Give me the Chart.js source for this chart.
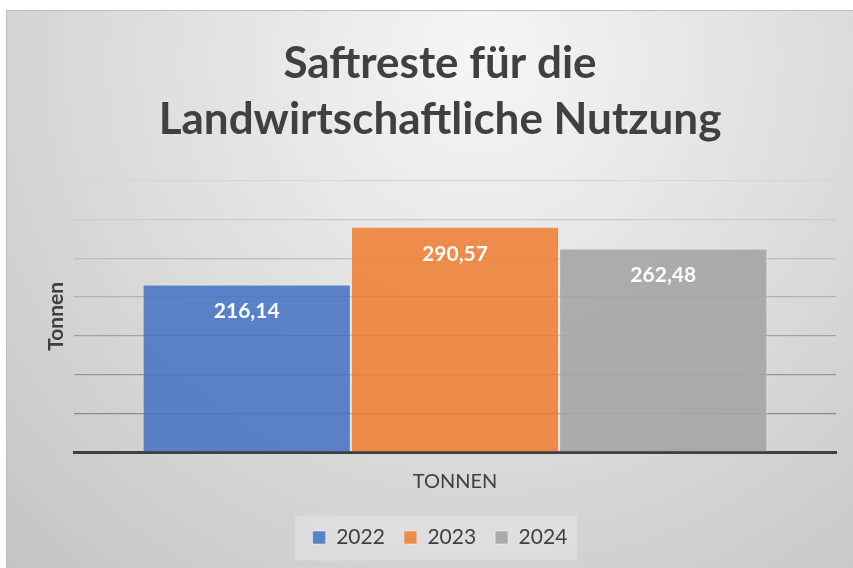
<!DOCTYPE html>
<html>
<head>
<meta charset="utf-8">
<script src="https://cdn.jsdelivr.net/npm/chart.js@4.4.1/dist/chart.umd.min.js"></script>
<style>
  html, body { margin: 0; padding: 0; background: #fff; }
  canvas { display: block; }
</style>
</head>
<body>
<canvas id="chart" width="853" height="568"></canvas>
<script>
const categories = ['TONNEN'];
const years = ['2022', '2023', '2024'];
const values2022 = [216.14];
const values2023 = [290.57];
const values2024 = [262.48];
const yMax = 350;
const yStep = 50;

const FONT = 'Lato, Calibri, "Open Sans", sans-serif';
const TEXT = '#404040';

const gridShades = { 50: '#8c8c8c', 100: '#969696', 150: '#a2a2a2', 200: '#b0b0b0', 250: '#bdbdbd', 300: '#cbcbcb', 350: '#d6d6d6' };

// gray radial background + legend box
const backgroundPlugin = {
    id: 'bg',
    beforeDraw(chart) {
        const ctx = chart.ctx;
        ctx.save();
        ctx.fillStyle = '#fff';
        ctx.fillRect(0, 0, chart.width, chart.height);
        const g = ctx.createRadialGradient(480, 60, 0, 480, 60, 720);
        g.addColorStop(0, '#f6f6f6');
        g.addColorStop(1, '#c2c2c2');
        ctx.fillStyle = g;
        ctx.fillRect(6, 10, chart.width - 6, chart.height - 10);
        ctx.strokeStyle = '#bdbdbd';
        ctx.lineWidth = 1;
        ctx.beginPath();
        ctx.moveTo(6.5, chart.height);
        ctx.lineTo(6.5, 10.5);
        ctx.lineTo(chart.width, 10.5);
        ctx.stroke();

        const boxes = chart.legend.legendHitBoxes;
        if (boxes && boxes.length) {
            const first = boxes[0], last = boxes[boxes.length - 1];
            const cy = first.top + first.height / 2;
            ctx.fillStyle = 'rgba(255,255,255,0.25)';
            ctx.fillRect(first.left - 18, cy - 22, last.left + last.width - first.left + 28, 45);
        }
        ctx.restore();
    }
};

// value labels inside the bar tops
const valueLabels = {
    id: 'valueLabels',
    afterDatasetsDraw(chart) {
        const ctx = chart.ctx;
        ctx.save();
        ctx.font = 'bold 21px ' + FONT;
        ctx.fillStyle = '#fff';
        ctx.textAlign = 'center';
        ctx.textBaseline = 'middle';
        chart.data.datasets.forEach((ds, i) => {
            chart.getDatasetMeta(i).data.forEach((bar, j) => {
                const txt = ds.data[j].toFixed(2).replace('.', ',');
                ctx.fillText(txt, bar.x, bar.y + 27);
            });
        });
        ctx.restore();
    }
};

new Chart(document.getElementById('chart'), {
    type: 'bar',
    data: {
        labels: categories,
        datasets: [
            { label: years[0], data: values2022, backgroundColor: 'rgba(68,114,196,0.86)', borderColor: 'rgba(255,255,255,0.45)', borderWidth: 1 },
            { label: years[1], data: values2023, backgroundColor: 'rgba(237,125,49,0.86)', borderColor: 'rgba(255,255,255,0.45)', borderWidth: 1 },
            { label: years[2], data: values2024, backgroundColor: 'rgba(165,165,165,0.9)', borderColor: 'rgba(255,255,255,0.45)', borderWidth: 1 }
        ]
    },
    options: {
        responsive: false,
        animation: false,
        categoryPercentage: 0.82,
        barPercentage: 1,
        layout: { padding: { left: 44, right: 17, top: 0, bottom: 10 } },
        plugins: {
            title: {
                display: true,
                text: ['Saftreste für die', 'Landwirtschaftliche Nutzung'],
                color: TEXT,
                font: { family: FONT, size: 44, weight: 'bold', lineHeight: 1.27 },
                padding: { top: 36, bottom: 33 }
            },
            legend: {
                position: 'bottom',
                labels: {
                    color: TEXT,
                    font: { family: FONT, size: 21 },
                    boxWidth: 13,
                    boxHeight: 13,
                    padding: 19
                }
            },
            tooltip: { enabled: false }
        },
        scales: {
            x: {
                grid: { display: false, drawTicks: false },
                border: { display: true, color: '#404040', width: 3 },
                ticks: { color: TEXT, font: { family: FONT, size: 20 }, padding: 18 },
                afterFit: s => { s.height = 56; }
            },
            y: {
                min: 0,
                max: yMax,
                ticks: { display: false, stepSize: yStep },
                border: { display: false },
                grid: {
                    drawTicks: false,
                    color: c => gridShades[c.tick.value] || 'rgba(0,0,0,0)',
                    lineWidth: 1.2
                },
                title: {
                    display: true,
                    text: 'Tonnen',
                    color: TEXT,
                    font: { family: FONT, size: 21, weight: 'bold' },
                    padding: 0
                },
                afterFit: s => { s.width = 30; }
            }
        }
    },
    plugins: [backgroundPlugin, valueLabels]
});
</script>
</body>
</html>
